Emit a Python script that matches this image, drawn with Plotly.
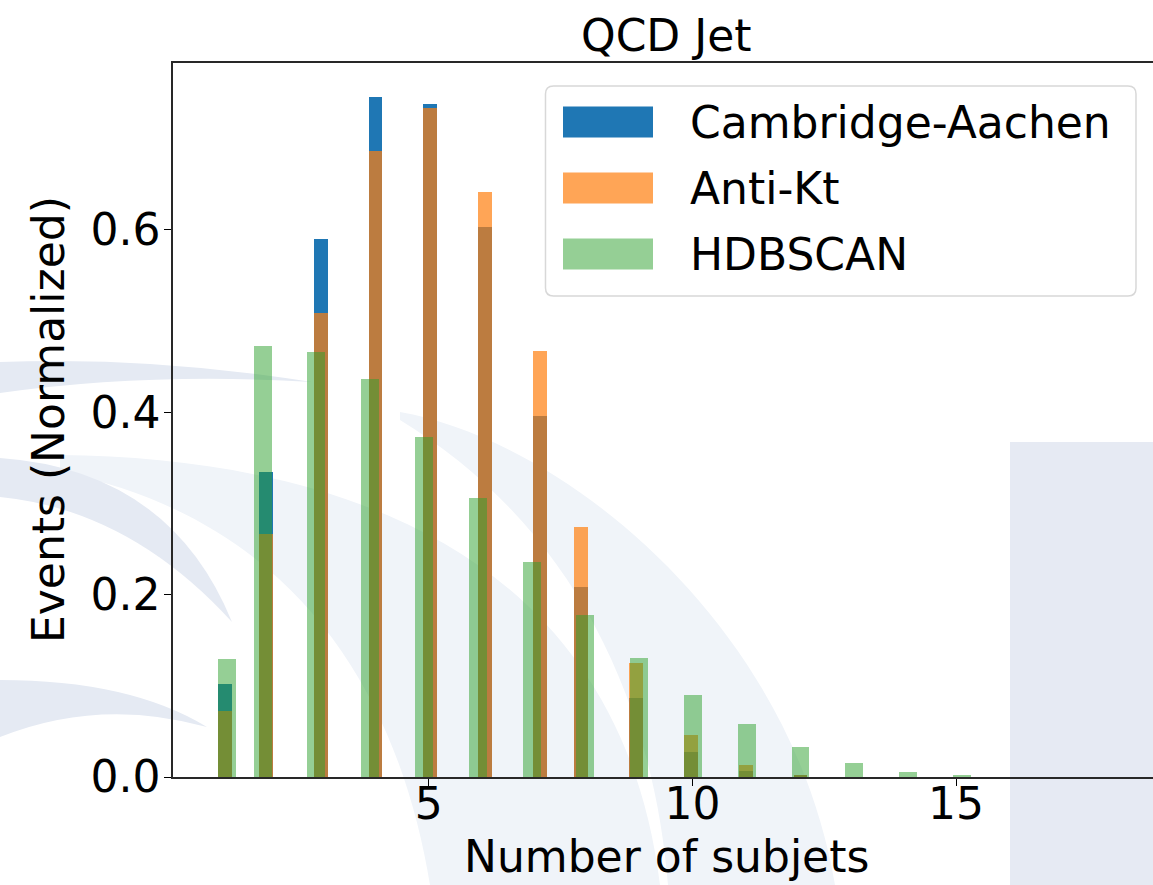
import plotly.graph_objects as go

# ---------------- data ----------------
# bin centres (histogram bins of width 0.26 for CA / Anti-Kt, 0.34 for HDBSCAN)
ca_x = [1.13, 1.91, 2.95, 3.99, 5.03, 6.07, 7.11, 7.89, 8.93, 9.97, 11.01, 12.05]
ca_y = [0.102, 0.335, 0.590, 0.746, 0.738, 0.603, 0.396, 0.208, 0.087, 0.027, 0.007, 0.002]

akt_x = [1.13, 1.91, 2.95, 3.99, 5.03, 6.07, 7.11, 7.89, 8.93, 9.97, 11.01, 12.05]
akt_y = [0.072, 0.266, 0.509, 0.687, 0.734, 0.641, 0.467, 0.274, 0.125, 0.046, 0.013, 0.002]

hdb_x = [1.17, 1.85, 2.87, 3.89, 4.91, 5.93, 6.95, 7.97, 8.99, 10.01, 11.03, 12.05, 13.07, 14.09, 15.11]
hdb_y = [0.1295, 0.4725, 0.4663, 0.4363, 0.373, 0.3065, 0.2359, 0.1774, 0.1309, 0.0903,
         0.0585, 0.0326, 0.015, 0.0058, 0.0018]

ca_width = 0.26
akt_width = 0.26
hdb_width = 0.34

series_names = ["Cambridge-Aachen", "Anti-Kt", "HDBSCAN"]
x_ticks = [5, 10, 15]
y_ticks = [0.0, 0.2, 0.4, 0.6]

# ---------------- styling ----------------
W, H = 1153, 885
L, T, B = 173, 63, 777          # plot-area pixel edges
R = W
PW, PH = R - L, B - T
FONT = "DejaVu Sans"
FS = 44

C_BLUE = "rgba(31,119,180,1)"
C_ORANGE = "rgba(255,127,14,0.7)"
C_GREEN = "rgba(44,160,44,0.5)"


def px(x):
    return (x - L) / PW


def py(y):
    return (B - y) / PH


def path(cmds):
    out = []
    for c in cmds:
        if isinstance(c, str):
            out.append(c)
        else:
            out.append(f"{px(c[0]):.5f},{py(c[1]):.5f}")
    return " ".join(out)


fig = go.Figure()
fig.add_trace(go.Bar(x=ca_x, y=ca_y, width=ca_width, name=series_names[0],
                     marker=dict(color=C_BLUE, line=dict(width=0))))
fig.add_trace(go.Bar(x=akt_x, y=akt_y, width=akt_width, name=series_names[1],
                     marker=dict(color=C_ORANGE, line=dict(width=0))))
fig.add_trace(go.Bar(x=hdb_x, y=hdb_y, width=hdb_width, name=series_names[2],
                     marker=dict(color=C_GREEN, line=dict(width=0))))

shapes = []
# faint watermark in the background
WM_DARK = "rgb(229,234,243)"
WM_LIGHT = "rgb(240,244,249)"
WM_RECT = "rgb(230,234,243)"
wm_paths = [
    (WM_LIGHT, ["M", (400, 412), "C", (560, 440), (790, 620), (835, 885), "L", (668, 885),
                "C", (652, 690), (565, 520), (400, 420), "Z"]),
    (WM_LIGHT, ["M", (60, 455), "C", (350, 458), (620, 560), (660, 885), "L", (430, 885),
                "C", (400, 700), (300, 520), (60, 472), "Z"]),
    (WM_DARK, ["M", (0, 362), "Q", (150, 356), (312, 382), "Q", (150, 372), (0, 393), "Z"]),
    (WM_DARK, ["M", (0, 458), "Q", (170, 470), (232, 622), "Q", (130, 510), (0, 497), "Z"]),
    (WM_DARK, ["M", (0, 680), "Q", (130, 680), (207, 727), "Q", (100, 697), (0, 737), "Z"]),
]
for col, cmds in wm_paths:
    shapes.append(dict(type="path", xref="paper", yref="paper", layer="below",
                       path=path(cmds), fillcolor=col, line=dict(width=0)))
shapes.append(dict(type="rect", xref="paper", yref="paper", layer="below",
                   x0=px(1010), x1=px(1160), y0=py(442), y1=py(890),
                   fillcolor=WM_RECT, line=dict(width=0)))

# legend frame (rounded)
lx0, lx1, ly0, ly1, r = 545.5, 1136, 86, 296, 8
legend_path = ["M", (lx0 + r, ly0), "L", (lx1 - r, ly0), "Q", (lx1, ly0), (lx1, ly0 + r),
               "L", (lx1, ly1 - r), "Q", (lx1, ly1), (lx1 - r, ly1),
               "L", (lx0 + r, ly1), "Q", (lx0, ly1), (lx0, ly1 - r),
               "L", (lx0, ly0 + r), "Q", (lx0, ly0), (lx0 + r, ly0), "Z"]
shapes.append(dict(type="path", xref="paper", yref="paper", layer="above",
                   path=path(legend_path), fillcolor="rgba(255,255,255,0.8)",
                   line=dict(color="rgb(216,216,216)", width=1.5)))

annotations = []
legend_cols = [C_BLUE, C_ORANGE, C_GREEN]
row_centres = [122, 188, 254]
for name, col, yc in zip(series_names, legend_cols, row_centres):
    shapes.append(dict(type="rect", xref="paper", yref="paper", layer="above",
                       x0=px(563), x1=px(653), y0=py(yc + 15.5), y1=py(yc - 15.5),
                       fillcolor=col, line=dict(width=0)))
    annotations.append(dict(text=name, xref="paper", yref="paper", x=px(688), y=py(yc),
                            xanchor="left", yanchor="middle", showarrow=False,
                            font=dict(family=FONT, size=FS, color="black")))

# title and axis titles
annotations.append(dict(text="QCD Jet", xref="paper", yref="paper", x=px(666), y=py(36),
                        xanchor="center", yanchor="middle", showarrow=False,
                        font=dict(family=FONT, size=FS, color="black")))
annotations.append(dict(text="Number of subjets", xref="paper", yref="paper", x=px(666),
                        y=py(856), xanchor="center", yanchor="middle", showarrow=False,
                        font=dict(family=FONT, size=FS, color="black")))
annotations.append(dict(text="Events (Normalized)", xref="paper", yref="paper", x=px(48),
                        y=py(420), xanchor="center", yanchor="middle", showarrow=False,
                        textangle=-90, font=dict(family=FONT, size=FS, color="black")))

fig.update_layout(
    width=W, height=H,
    margin=dict(l=L, r=W - R, t=T, b=H - B, pad=0),
    barmode="overlay",
    bargap=0,
    showlegend=False,
    paper_bgcolor="white",
    plot_bgcolor="rgba(0,0,0,0)",
    font=dict(family=FONT, size=FS, color="black"),
    shapes=shapes,
    annotations=annotations,
)
x_lo = 0.15
x_hi = x_lo + PW / 52.73
fig.update_xaxes(range=[x_lo, x_hi], tickvals=x_ticks, ticktext=[str(v) for v in x_ticks],
                 ticks="outside", ticklen=7, tickwidth=1.3, tickcolor="black",
                 ticklabelstandoff=-20,
                 showline=True, linecolor="rgb(40,40,40)", linewidth=1.5, mirror=True,
                 showgrid=False, zeroline=False,
                 tickfont=dict(family=FONT, size=FS, color="black"))
fig.update_yaxes(range=[0, 0.783], tickvals=y_ticks, ticktext=[f"{v:.1f}" for v in y_ticks],
                 ticks="outside", ticklen=7, tickwidth=1.3, tickcolor="black",
                 ticklabelstandoff=-5,
                 showline=True, linecolor="rgb(40,40,40)", linewidth=1.5, mirror=False,
                 showgrid=False, zeroline=False,
                 tickfont=dict(family=FONT, size=FS, color="black"))

fig.write_html("out.html")
